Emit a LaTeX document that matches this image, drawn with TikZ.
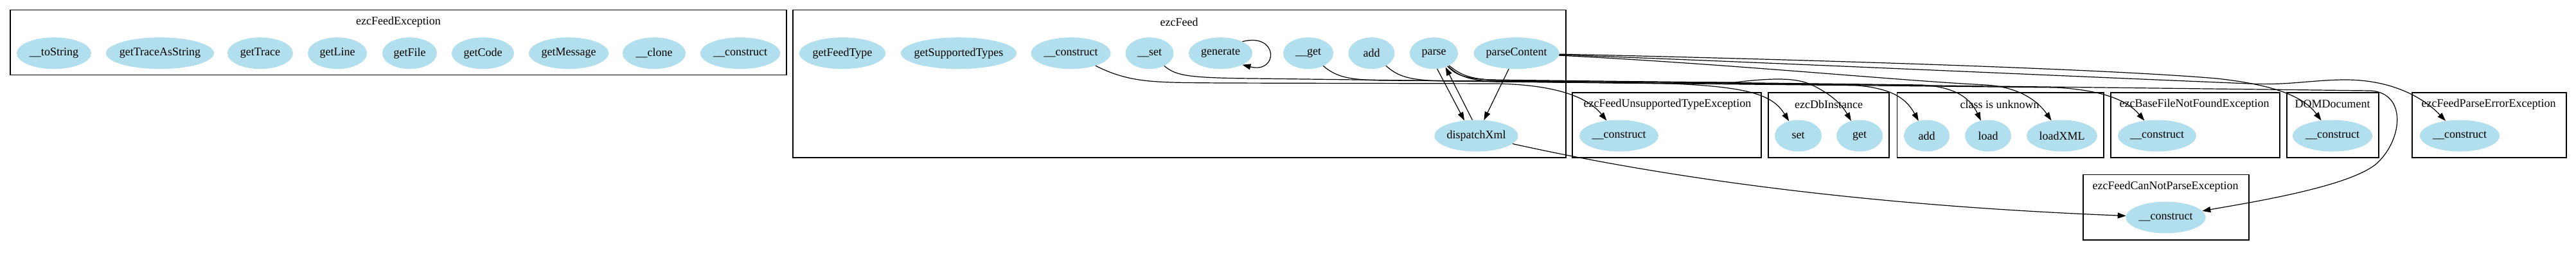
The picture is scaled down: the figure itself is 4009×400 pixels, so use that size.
\documentclass[tikz,border=0pt]{standalone}
\usepackage{fontspec}
\setmainfont{Liberation Serif}
\usetikzlibrary{shapes.geometric,arrows.meta}
\definecolor{nodeblue}{RGB}{178,223,238}
\tikzset{
 fn/.style={ellipse, fill=nodeblue, draw=none, inner sep=0pt, minimum height=49pt, font=\fontsize{18}{20}\selectfont},
 ttl/.style={inner sep=0pt, font=\fontsize{18}{20}\selectfont},
 clu/.style={draw=black, line width=1.3pt},
 edge/.style={draw=black, line width=1.2pt, -{Triangle[length=13pt,width=9pt]}},
}
\newcommand\mkn[5]{\node[fn, minimum width=#4pt] (#1) at (#2,#3) {\makebox[0pt]{#5}};}
\begin{document}
\begin{tikzpicture}[x=1pt,y=-1pt]
\useasboundingbox (0,0) rectangle (4009,400);
\fill[white] (0,0) rectangle (4009,400);
% clusters
\draw[clu] (16,15.7) rectangle (1224,116.7);
\draw[clu] (1234,15.7) rectangle (2437,245);
\draw[clu] (2447,144) rectangle (2741,245);
\draw[clu] (2752,144) rectangle (2940,245);
\draw[clu] (2952.5,144) rectangle (3274,245);
\draw[clu] (3285,144) rectangle (3548,245);
\draw[clu] (3559,144) rectangle (3702,245);
\draw[clu] (3754,144) rectangle (3994,245);
\draw[clu] (3242,271.7) rectangle (3500,373);
% titles
\node[ttl] (t1) at (620,34) {ezcFeedException};
\node[ttl] (t2) at (1835,34) {ezcFeed};
\node[ttl] (t3) at (2595,162) {ezcFeedUnsupportedTypeException};
\node[ttl] (t4) at (2846,162) {ezcDbInstance};
\node[ttl] (t5) at (3112,162) {class is unknown};
\node[ttl] (t6) at (3415,162) {ezcBaseFileNotFoundException};
\node[ttl] (t7) at (3630,162) {DOMDocument};
\node[ttl] (t8) at (3873,162) {ezcFeedParseErrorException};
\node[ttl] (t9) at (3370,290) {ezcFeedCanNotParseException};
% ezcFeedException nodes
\mkn{e1}{84}{82.7}{116}{\_\_toString}
\mkn{e2}{249}{82.7}{168}{getTraceAsString}
\mkn{e3}{405}{82.7}{102}{getTrace}
\mkn{e4}{525}{82.7}{92}{getLine}
\mkn{e5}{637.5}{82.7}{85}{getFile}
\mkn{e6}{751.5}{82.7}{97}{getCode}
\mkn{e7}{885}{82.7}{124}{getMessage}
\mkn{e8}{1018}{82.7}{98}{\_\_clone}
\mkn{e9}{1152}{82.7}{124}{\_\_construct}
% ezcFeed nodes
\mkn{fft}{1311}{82.7}{134}{getFeedType}
\mkn{fst}{1492}{82.7}{180}{getSupportedTypes}
\mkn{fctor}{1666.5}{82.7}{124}{\_\_construct}
\mkn{fset}{1789}{82.7}{75}{\_\_set}
\mkn{gen}{1899.5}{82.7}{99}{generate}
\mkn{fget}{2036}{82.7}{78}{\_\_get}
\mkn{fadd}{2134.5}{82.7}{72}{add}
\mkn{fparse}{2231.5}{82.7}{75}{parse}
\mkn{pc}{2360}{82.7}{133}{parseContent}
\mkn{dx}{2297.5}{211}{130}{dispatchXml}
% lower nodes
\mkn{uctor}{2519.5}{211}{123}{\_\_construct}
\mkn{set}{2798.5}{211}{73}{set}
\mkn{get}{2894}{211}{72}{get}
\mkn{uadd}{2998.5}{211}{71}{add}
\mkn{load}{3094}{211}{72}{load}
\mkn{lxml}{3209}{211}{110}{loadXML}
\mkn{bf}{3357}{211}{122}{\_\_construct}
\mkn{dom}{3630}{211}{124}{\_\_construct}
\mkn{pe}{3828}{211}{124}{\_\_construct}
\mkn{cnp}{3370.5}{338}{124}{\_\_construct}
% edges
\draw[edge] (gen.28) .. controls (1990,50) and (1990,115) .. (gen.-28);
\draw[edge] (fparse.-78) -- (dx.128);
\draw[edge] (dx.104) -- (fparse.-50);
\draw[edge] (pc) -- (dx);
\draw[edge] (dx) .. controls (2700,300) and (3050,325) .. (cnp);
\draw[edge] (fctor) .. controls (1760,130) and (1800,128) .. (1900,129) -- (2330,130) .. controls (2420,132) and (2470,150) .. (uctor);
\draw[edge] (fset) .. controls (1830,118) and (1850,121) .. (1950,122) -- (2600,130) .. controls (2730,135) and (2760,150) .. (set);
\draw[edge] (fget) .. controls (2080,120) and (2100,124) .. (2150,125) -- (2700,128) .. controls (2750,122) and (2790,120) .. (2815,130) .. controls (2845,143) and (2865,160) .. (get);
\draw[edge] (fadd) .. controls (2175,118) and (2190,125) .. (2250,126) -- (2880,132) .. controls (2940,136) and (2965,150) .. (uadd);
\draw[edge] (fparse) .. controls (2265,115) and (2275,122) .. (2320,124) -- (2990,132) .. controls (3040,135) and (3065,150) .. (load);
\draw[edge] (fparse) .. controls (2270,118) and (2285,125) .. (2330,127) -- (3200,136) .. controls (3270,140) and (3310,155) .. (bf);
\draw[edge] (fparse) .. controls (2275,118) and (2290,124) .. (2340,125) -- (3690,141) .. controls (3745,145) and (3740,215) .. (3700,253) .. controls (3660,290) and (3500,315) .. (cnp);
\draw[edge] (pc) .. controls (2700,90) and (3250,105) .. (3450,122) .. controls (3540,132) and (3585,150) .. (dom);
\draw[edge] (pc) .. controls (2700,95) and (3300,122) .. (3500,130) .. controls (3560,133) and (3600,124) .. (3650,124) .. controls (3720,124) and (3770,150) .. (pe);
\draw[edge] (pc) .. controls (2700,100) and (2950,125) .. (3090,132) .. controls (3140,135) and (3170,155) .. (lxml);
\end{tikzpicture}
\end{document}
